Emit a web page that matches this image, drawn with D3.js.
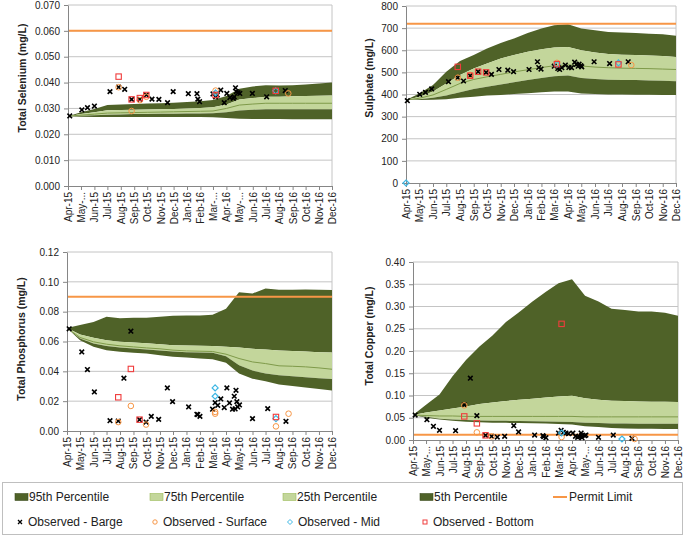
<!DOCTYPE html>
<html>
<head>
<meta charset="utf-8">
<script src="https://cdn.jsdelivr.net/npm/d3@7"></script>
<style>
  body { margin: 0; background: #fff; }
  svg { font-family: "Liberation Sans", Arial, sans-serif; }
</style>
</head>
<body>
<svg id="chart" width="685" height="536"></svg>
<script>
// month ticks shared by the four panels
var months = ["2015-04-01","2015-05-01","2015-06-01","2015-07-01","2015-08-01","2015-09-01","2015-10-01",
  "2015-11-01","2015-12-01","2016-01-01","2016-02-01","2016-03-01","2016-04-01","2016-05-01","2016-06-01",
  "2016-07-01","2016-08-01","2016-09-01","2016-10-01","2016-11-01","2016-12-01"];

// ---- Total Selenium ----
var selTicks = [0, 0.01, 0.02, 0.03, 0.04, 0.05, 0.06, 0.07];
var selLimit = 0.060;
var selP95 = [.027,.0285,.0298,.0313,.0315,.0317,.0319,.032,.0322,.0325,.0328,.0333,.0348,.0376,.0385,.039,.0389,.039,.0393,.0396,.040];
var selP75 = [.027,.0278,.0285,.0293,.0294,.0295,.0296,.0297,.0298,.030,.0302,.0305,.0315,.0335,.034,.0345,.0345,.0347,.0348,.0349,.035];
var selP50 = [.027,.0274,.0278,.0282,.0283,.0284,.0285,.0286,.0287,.0288,.0289,.029,.030,.0313,.0317,.032,.032,.032,.032,.032,.032];
var selP25 = [.027,.0272,.0274,.0276,.0277,.0278,.0278,.0279,.0279,.028,.028,.0281,.0285,.0292,.0295,.0297,.0297,.0297,.0297,.0297,.0297];
var selP5  = [.027,.0268,.0267,.0267,.0267,.0267,.0267,.0267,.0267,.0267,.0267,.0266,.0263,.0260,.0259,.0259,.0259,.0258,.0258,.0258,.0258];
var selBarge = [["2015-04-05",.0271],["2015-05-03",.0294],["2015-05-16",.0303],["2015-06-01",.0309],["2015-07-07",.0365],
  ["2015-07-27",.0382],["2015-08-10",.0374],["2015-08-26",.0335],["2015-09-14",.0335],["2015-09-29",.0352],
  ["2015-10-12",.0336],["2015-10-28",.0335],["2015-11-17",.0322],["2015-11-30",.0365],["2016-01-04",.0357],
  ["2016-01-24",.0357],["2016-01-26",.0336],["2016-01-30",.0326],["2016-03-01",.0356],["2016-03-07",.0345],
  ["2016-03-11",.0352],["2016-03-19",.0371],["2016-03-27",.0322],["2016-04-02",.0358],["2016-04-09",.0342],
  ["2016-04-17",.0339],["2016-04-19",.0345],["2016-04-22",.0380],["2016-04-24",.0365],["2016-04-28",.0361],
  ["2016-05-02",.0358],["2016-05-31",.0358],["2016-07-03",.0345],["2016-08-15",.0369]];
var selSurface = [["2015-07-27",.0382],["2015-08-26",.0290],["2015-09-14",.0332],["2015-09-29",.0345],["2016-03-07",.0369],["2016-08-22",.0358]];
var selMid = [["2016-03-07",.0360],["2016-07-24",.0368]];
var selBottom = [["2015-07-27",.0423],["2015-08-26",.0335],["2015-09-14",.0340],["2015-09-29",.0352],["2016-03-07",.0352],["2016-07-24",.0368]];

// ---- Sulphate ----
var sulTicks = [0, 100, 200, 300, 400, 500, 600, 700, 800];
var sulLimit = 720;
var sulP95 = [375,405,443,503,551,578,608,633,653,678,698,713,717,698,690,683,680,678,675,672,665];
var sulP75 = [375,390,413,450,488,518,540,563,578,593,605,612,615,600,590,583,580,578,576,574,570];
var sulP50 = [375,383,398,423,450,468,480,491,502,512,522,530,534,529,524,521,519,518,517,515,513];
var sulP25 = [375,378,385,395,410,425,435,445,455,465,475,483,486,475,470,467,466,465,463,462,460];
var sulP5  = [375,375,376,378,385,390,395,398,402,406,410,413,413,405,402,400,400,399,399,398,398];
var sulBarge = [["2015-04-04",372],["2015-05-02",401],["2015-05-15",410],["2015-05-29",425],["2015-07-06",458],
  ["2015-07-27",476],["2015-08-09",461],["2015-08-24",485],["2015-09-11",503],["2015-09-29",500],["2015-10-11",491],
  ["2015-10-28",513],["2015-11-17",510],["2015-11-30",503],["2016-01-04",513],["2016-01-23",548],["2016-01-26",522],
  ["2016-01-31",515],["2016-03-01",528],["2016-03-09",518],["2016-03-13",513],["2016-03-18",521],["2016-03-26",533],
  ["2016-04-03",522],["2016-04-09",521],["2016-04-16",546],["2016-04-20",536],["2016-04-24",528],["2016-04-26",537],
  ["2016-04-30",530],["2016-05-02",525],["2016-05-30",548],["2016-07-04",540],["2016-08-15",548]];
var sulSurface = [["2015-07-27",476],["2015-08-24",488],["2016-03-07",543],["2016-08-22",533]];
var sulMid = [["2015-04-01",0],["2016-03-07",536],["2016-07-24",543]];
var sulBottom = [["2015-07-27",525],["2015-08-24",485],["2015-09-11",503],["2015-09-29",500],["2016-03-07",537],["2016-07-24",536]];

// ---- Total Phosphorus ----
var phoTicks = [0, 0.02, 0.04, 0.06, 0.08, 0.10, 0.12];
var phoLimit = 0.090;
var phoP95 = [.069,.071,.073,.0766,.0756,.0759,.076,.0766,.0772,.0775,.0775,.0779,.082,.093,.0922,.0956,.0947,.0947,.0949,.0947,.0945];
var phoP75 = [.069,.0647,.0625,.0609,.0598,.0593,.0589,.0582,.0575,.0573,.0571,.0569,.0564,.056,.0551,.0546,.054,.0537,.0533,.0528,.0526];
var phoP50 = [.069,.0627,.0598,.0582,.0571,.0564,.0557,.0551,.0542,.0537,.0535,.0533,.0515,.0486,.0463,.0452,.0437,.0434,.043,.0423,.0414];
var phoP25 = [.069,.062,.0587,.0569,.056,.0553,.0546,.054,.0533,.0528,.0526,.0524,.0501,.0441,.0405,.0385,.0373,.0367,.0361,.0354,.0348];
var phoP5  = [.069,.0609,.0564,.0542,.0531,.0524,.0519,.0508,.0497,.0492,.0486,.0481,.0457,.0385,.0351,.0334,.0312,.0302,.0292,.0282,.0272];
var phoBarge = [["2015-04-06",.0685],["2015-05-05",.053],["2015-05-18",.0412],["2015-06-03",.0262],["2015-07-09",.0069],
  ["2015-07-28",.0067],["2015-08-10",.0354],["2015-08-26",.0669],["2015-09-15",.0076],["2015-09-30",.006],["2015-10-12",.0098],
  ["2015-10-29",.0078],["2015-11-18",.0289],["2015-11-30",.0197],["2016-01-06",.0161],["2016-01-25",.0112],["2016-01-27",.011],
  ["2016-02-01",.0098],["2016-03-01",.0146],["2016-03-07",.019],["2016-03-13",.0172],["2016-03-20",.0215],["2016-03-28",.0157],
  ["2016-04-03",.0289],["2016-04-09",.0188],["2016-04-16",.0146],["2016-04-20",.0233],["2016-04-22",.0148],["2016-04-24",.0273],
  ["2016-04-26",.0197],["2016-04-28",.0161],["2016-05-02",.0175],["2016-06-01",.0083],["2016-07-06",.015],["2016-08-17",.0065]];
var phoSurface = [["2015-07-28",.006],["2015-08-26",.0168],["2015-09-30",.0043],["2016-03-07",.0128],["2016-03-07",.0116],["2016-07-25",.0031],["2016-08-23",.0116]];
var phoMid = [["2016-03-07",.0289],["2016-03-07",.0233],["2016-07-25",.0083]];
var phoBottom = [["2015-07-28",.0226],["2015-08-26",.0416],["2015-09-15",.0076],["2016-07-25",.0094]];

// ---- Total Copper ----
var cuTicks = [0, 0.05, 0.10, 0.15, 0.20, 0.25, 0.30, 0.35, 0.40];
var cuLimit = 0.012;
var cuP95 = [.056,.079,.102,.143,.18,.21,.235,.265,.287,.311,.333,.352,.361,.324,.311,.295,.292,.289,.289,.286,.279];
var cuP75 = [.056,.062,.0665,.071,.0755,.081,.0845,.0875,.0905,.0927,.0957,.098,.0994,.094,.0905,.088,.0875,.0867,.086,.086,.0852];
var cuP50 = [.056,.055,.054,.054,.053,.053,.053,.053,.053,.053,.053,.053,.053,.052,.052,.052,.052,.052,.052,.052,.052];
var cuP25 = [.056,.052,.048,.046,.045,.044,.0435,.043,.0425,.042,.0415,.041,.0405,.039,.038,.037,.037,.0365,.0365,.0365,.0365];
var cuP5  = [.056,.050,.046,.043,.041,.040,.039,.0385,.038,.0375,.037,.036,.035,.031,.029,.027,.026,.0255,.0255,.025,.025];
var cuBarge = [["2015-04-06",.056],["2015-05-03",.0456],["2015-05-18",.0307],["2015-06-01",.0217],["2015-07-08",.0209],
  ["2015-07-28",.079],["2015-08-11",.139],["2015-08-26",.0546],["2015-09-15",.0105],["2015-09-29",.0082],["2015-10-12",.0067],
  ["2015-10-29",.0082],["2015-11-19",.0321],["2015-11-30",.018],["2016-01-06",.0112],["2016-01-25",.0097],["2016-01-27",.0075],
  ["2016-02-01",.0052],["2016-03-01",.0157],["2016-03-07",.0217],["2016-03-12",.0172],["2016-03-18",.0157],["2016-03-24",.0142],
  ["2016-04-03",.0157],["2016-04-09",.0082],["2016-04-14",.006],["2016-04-17",.0082],["2016-04-22",.0157],["2016-04-23",.0097],
  ["2016-04-24",.0052],["2016-04-30",.0097],["2016-05-03",.0112],["2016-06-01",.006],["2016-07-05",.0112],["2016-08-17",.0037]];
var cuSurface = [["2015-07-28",.0778],["2015-08-26",.0172],["2015-09-29",.0082],["2016-03-08",.0067],["2016-08-23",.0022]];
var cuMid = [["2016-03-08",.0157],["2016-07-25",.0022]];
var cuBottom = [["2015-07-28",.053],["2015-08-26",.0374],["2015-09-15",.0105],["2016-03-08",.261]];

// legend entries
var legendBands = ["95th Percentile", "75th Percentile", "25th Percentile", "5th Percentile"];
var legendObs = ["Observed - Barge", "Observed - Surface", "Observed - Mid", "Observed - Bottom"];

var DARK = "#4f6228", LIGHT = "#c3d69b", MEDIAN = "#7f9a4a", ORANGE = "#f79646",
    GRID = "#c4c4c4", AXIS = "#868686";

var parse = d3.timeParse("%Y-%m-%d");
var svg = d3.select("#chart");

function drawPanel(c) {
  var g = svg.append("g");
  var dates = months.map(parse);
  var x = d3.scaleTime().domain([dates[0], dates[dates.length - 1]]).range([c.left, c.right]);
  var y = d3.scaleLinear().domain([c.ticks[0], c.ticks[c.ticks.length - 1]]).range([c.base, c.top]);

  // gridlines + plot border
  g.selectAll(".grid").data(c.ticks.slice(1)).enter().append("line")
      .attr("x1", c.left).attr("x2", c.right)
      .attr("y1", function(d) { return y(d); }).attr("y2", function(d) { return y(d); })
      .attr("stroke", GRID).attr("stroke-width", 1);
  g.append("line").attr("x1", c.right).attr("x2", c.right).attr("y1", c.top).attr("y2", c.base)
      .attr("stroke", GRID);

  // percentile bands
  var rows = dates.map(function(d, i) {
    return { d: d, p95: c.p95[i], p75: c.p75[i], p50: c.p50[i], p25: c.p25[i], p5: c.p5[i] };
  });
  function band(hi, lo) {
    return d3.area().x(function(r) { return x(r.d); })
      .y0(function(r) { return y(r[lo]); }).y1(function(r) { return y(r[hi]); });
  }
  g.append("path").datum(rows).attr("d", band("p95", "p75")).attr("fill", DARK);
  g.append("path").datum(rows).attr("d", band("p75", "p25")).attr("fill", LIGHT);
  g.append("path").datum(rows).attr("d", band("p25", "p5")).attr("fill", DARK);
  g.append("path").datum(rows)
      .attr("d", d3.line().x(function(r) { return x(r.d); }).y(function(r) { return y(r.p50); }))
      .attr("fill", "none").attr("stroke", MEDIAN).attr("stroke-width", 1);

  // permit limit
  g.append("line").attr("x1", c.left).attr("x2", c.right)
      .attr("y1", y(c.limit)).attr("y2", y(c.limit))
      .attr("stroke", ORANGE).attr("stroke-width", 2);

  // axes
  var yAxis = g.append("g").attr("transform", "translate(" + c.left + ",0)")
      .call(d3.axisLeft(y).tickValues(c.ticks).tickFormat(d3.format(c.fmt)).tickSize(4).tickSizeOuter(0).tickPadding(4));
  var xAxis = g.append("g").attr("transform", "translate(0," + c.base + ")")
      .call(d3.axisBottom(x).tickValues(dates).tickSize(4).tickSizeOuter(0)
        .tickFormat(function(d) {
          var s = d3.timeFormat("%b-%y")(d);
          return c.cut.indexOf(s) >= 0 ? s.slice(0, 4) + "..." : s;
        }));
  [yAxis, xAxis].forEach(function(a) {
    a.selectAll("path, line").attr("stroke", AXIS);
    a.selectAll("text").attr("fill", "#222").style("font-size", "10px")
      .style("font-family", "'Liberation Sans', Arial, sans-serif");
  });
  xAxis.selectAll("text")
      .attr("y", 0).attr("x", -6).attr("dy", "0.35em")
      .attr("transform", "rotate(-90)")
      .style("text-anchor", "end");

  g.append("text")
      .attr("transform", "translate(" + c.titleX + "," + c.titleY + ") rotate(-90)")
      .attr("text-anchor", "middle").attr("dy", "0.35em")
      .attr("font-size", "10.5px").attr("font-weight", "bold").attr("fill", "#222")
      .text(c.title);

  // observations
  function pts(data) {
    return data.map(function(p) { return { x: x(parse(p[0])), y: y(p[1]) }; });
  }
  g.selectAll(".barge").data(pts(c.barge)).enter().append("path")
      .attr("d", function(p) { return "M" + (p.x - 2.3) + "," + (p.y - 2.3) + "l4.6,4.6m0,-4.6l-4.6,4.6"; })
      .attr("stroke", "#000").attr("stroke-width", 1.6);
  g.selectAll(".surface").data(pts(c.surface)).enter().append("circle")
      .attr("cx", function(p) { return p.x; }).attr("cy", function(p) { return p.y; }).attr("r", 2.8)
      .attr("fill", "none").attr("stroke", ORANGE).attr("stroke-width", 1);
  g.selectAll(".mid").data(pts(c.mid)).enter().append("path")
      .attr("d", function(p) { return "M" + p.x + "," + (p.y - 3) + "l3,3l-3,3l-3,-3z"; })
      .attr("fill", "none").attr("stroke", "#3db7e4").attr("stroke-width", 1.2);
  g.selectAll(".bottom").data(pts(c.bot)).enter().append("rect")
      .attr("x", function(p) { return p.x - 2.7; }).attr("y", function(p) { return p.y - 2.7; })
      .attr("width", 5.4).attr("height", 5.4)
      .attr("fill", "none").attr("stroke", "#f03c3c").attr("stroke-width", 1.1);
}

drawPanel({ left: 68, right: 332, top: 5, base: 186, ticks: selTicks, fmt: ".3f", limit: selLimit,
  title: "Total Selenium (mg/L)", titleX: 22, titleY: 78, cut: ["May-15", "Mar-16", "May-16"],
  p95: selP95, p75: selP75, p50: selP50, p25: selP25, p5: selP5,
  barge: selBarge, surface: selSurface, mid: selMid, bot: selBottom });
drawPanel({ left: 406, right: 676, top: 6, base: 183, ticks: sulTicks, fmt: "d", limit: sulLimit,
  title: "Sulphate (mg/L)", titleX: 369, titleY: 78, cut: [],
  p95: sulP95, p75: sulP75, p50: sulP50, p25: sulP25, p5: sulP5,
  barge: sulBarge, surface: sulSurface, mid: sulMid, bot: sulBottom });
drawPanel({ left: 67, right: 332, top: 252, base: 431, ticks: phoTicks, fmt: ".2f", limit: phoLimit,
  title: "Total Phosphorus (mg/L)", titleX: 21, titleY: 339, cut: [],
  p95: phoP95, p75: phoP75, p50: phoP50, p25: phoP25, p5: phoP5,
  barge: phoBarge, surface: phoSurface, mid: phoMid, bot: phoBottom });
drawPanel({ left: 413, right: 678, top: 262, base: 440, ticks: cuTicks, fmt: ".2f", limit: cuLimit,
  title: "Total Copper (mg/L)", titleX: 369, titleY: 336, cut: ["May-15", "May-16"],
  p95: cuP95, p75: cuP75, p50: cuP50, p25: cuP25, p5: cuP5,
  barge: cuBarge, surface: cuSurface, mid: cuMid, bot: cuBottom });

// legend
var lg = svg.append("g").style("font-size", "12px").attr("fill", "#222");
lg.append("rect").attr("x", 2.5).attr("y", 482.5).attr("width", 680).attr("height", 52)
    .attr("fill", "#fff").attr("stroke", "#bfbfbf");
var bandX = [15, 150, 283, 420];
var bandFill = [DARK, LIGHT, LIGHT, DARK];
legendBands.forEach(function(name, i) {
  lg.append("rect").attr("x", bandX[i]).attr("y", 493.5).attr("width", 13).attr("height", 7)
      .attr("fill", bandFill[i]).attr("stroke", i === 1 || i === 2 ? "#9bbb59" : "#3f4f20").attr("stroke-width", 0.6);
  lg.append("text").attr("x", bandX[i] + 14).attr("y", 497).attr("dy", "0.35em").text(name);
});
lg.append("line").attr("x1", 553).attr("x2", 567).attr("y1", 497).attr("y2", 497)
    .attr("stroke", ORANGE).attr("stroke-width", 2);
lg.append("text").attr("x", 569).attr("y", 497).attr("dy", "0.35em").text("Permit Limit");

var obsX = [20, 155, 290, 425];
legendObs.forEach(function(name, i) {
  var cx = obsX[i], cy = 522;
  if (i === 0) lg.append("path").attr("d", "M" + (cx - 2) + "," + (cy - 2) + "l4,4m0,-4l-4,4")
      .attr("stroke", "#000").attr("stroke-width", 1.3);
  if (i === 1) lg.append("circle").attr("cx", cx).attr("cy", cy).attr("r", 2.2)
      .attr("fill", "none").attr("stroke", ORANGE);
  if (i === 2) lg.append("path").attr("d", "M" + cx + "," + (cy - 2.5) + "l2.5,2.5l-2.5,2.5l-2.5,-2.5z")
      .attr("fill", "none").attr("stroke", "#3db7e4");
  if (i === 3) lg.append("rect").attr("x", cx - 2).attr("y", cy - 2).attr("width", 4).attr("height", 4)
      .attr("fill", "none").attr("stroke", "#f03c3c");
  lg.append("text").attr("x", cx + 8).attr("y", cy).attr("dy", "0.35em").text(name);
});
</script>
</body>
</html>
